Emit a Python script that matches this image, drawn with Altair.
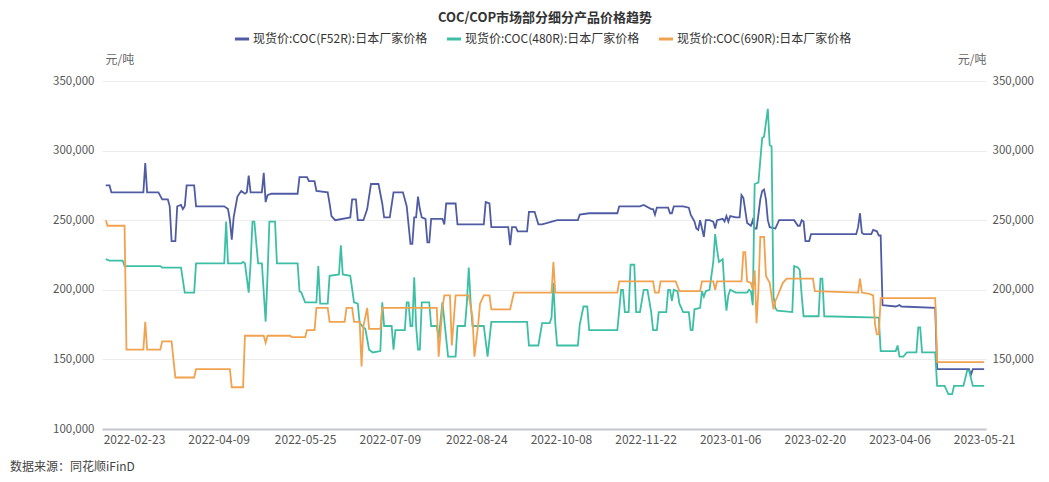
import altair as alt
import pandas as pd

FONT = "Noto Sans CJK SC"
TITLE = "COC/COP市场部分细分产品价格趋势"
SOURCE = "数据来源：同花顺iFinD"
UNIT = "元/吨"
START = "2022-02-08"

SERIES = ["现货价:COC(F52R):日本厂家价格", "现货价:COC(480R):日本厂家价格", "现货价:COC(690R):日本厂家价格"]
COLORS = ["#4f5ca4", "#3dbfa6", "#f2a24e"]

X_TICKS = ["2022-02-23", "2022-04-09", "2022-05-25", "2022-07-09", "2022-08-24", "2022-10-08",
           "2022-11-22", "2023-01-06", "2023-02-20", "2023-04-06", "2023-05-21"]
X_DOMAIN = ["2022-02-06", "2023-05-22"]
Y_TICKS = [100000, 150000, 200000, 250000, 300000, 350000]
Y_TICKS_RIGHT = [150000, 200000, 250000, 300000, 350000]

# days after START, values in thousand yuan/ton
F52R_DAYS = [0, 2, 3, 20, 21, 22, 28, 30, 33, 34, 35, 37, 38, 40, 41, 42, 43, 47, 48, 63, 65, 66, 67, 68, 70, 72, 74, 75, 76, 77,
             83, 84, 85, 86, 88, 102, 103, 107, 108, 111, 112, 118, 119, 120, 122, 130, 131, 133, 134, 137, 139, 141, 145, 147,
             148, 151, 153, 158, 160, 162, 163, 164, 165, 166, 167, 168, 170, 171, 172, 173, 179, 180, 181, 186, 187, 201, 202,
             204, 205, 214, 215, 216, 218, 219, 224, 225, 228, 230, 232, 240, 251, 252, 257, 272, 273, 284, 286, 290, 291, 292,
             293, 299, 300, 301, 302, 307, 310, 311, 313, 314, 315, 316, 317, 318, 319, 321, 323, 324, 325, 328, 329, 330, 331,
             332, 335, 337, 338, 339, 341, 343, 344, 345, 346, 347, 348, 349, 350, 351, 352, 353, 356, 358, 366, 368, 369, 370,
             371, 372, 374, 375, 399, 400, 401, 402, 403, 407, 408, 410, 411, 412, 413, 420, 422, 423, 441, 442, 459, 460, 461, 467]
F52R_VALS = [275, 275, 270, 270, 291, 270, 270, 265, 265, 260, 235, 235, 260, 261, 258, 260, 275, 275, 260, 260, 258, 250, 236,
             252, 267, 271, 269, 270, 282, 270, 270, 284, 263, 268, 269, 269, 281, 281, 278, 278, 271, 270, 262, 253, 250, 252,
             265, 265, 250, 250, 258, 276, 276, 262, 252, 252, 270, 270, 260, 233, 233, 252, 252, 267, 258, 252, 251, 234, 234,
             251, 251, 247, 262, 262, 247, 247, 263, 262, 245, 245, 232, 245, 245, 242, 242, 256, 256, 247, 247, 250, 250, 254,
             255, 255, 260, 260, 261, 258, 258, 254, 259, 259, 255, 255, 260, 260, 259, 254, 249, 244, 243, 250, 244, 238, 250,
             250, 249, 244, 250, 251, 249, 253, 249, 253, 252, 252, 268, 266, 248, 246, 250, 244, 244, 254, 265, 271, 272, 265,
             250, 245, 244, 250, 250, 246, 246, 250, 249, 235, 235, 240, 240, 245, 255, 241, 240, 240, 243, 242, 239, 239, 189,
             188, 189, 188, 187, 143, 143, 139, 143, 143]

C480R_DAYS = [0, 2, 9, 10, 29, 30, 40, 42, 47, 48, 63, 64, 65, 72, 73, 74, 76, 77, 78, 79, 81, 83, 85, 86, 87, 90, 91, 102, 103,
              104, 106, 112, 113, 114, 118, 119, 124, 125, 126, 130, 132, 134, 135, 137, 138, 140, 142, 146, 147, 148, 152, 153,
              154, 159, 160, 161, 162, 163, 164, 165, 166, 167, 168, 172, 173, 176, 177, 179, 182, 186, 187, 191, 192, 193, 194,
              195, 201, 203, 205, 224, 225, 230, 232, 236, 237, 238, 239, 240, 251, 252, 254, 256, 257, 272, 274, 275, 276, 278,
              279, 281, 282, 284, 286, 288, 290, 291, 293, 294, 298, 299, 300, 301, 302, 304, 305, 307, 310, 311, 312, 313, 316,
              317, 318, 319, 321, 323, 324, 325, 326, 328, 329, 330, 331, 332, 335, 341, 342, 343, 344, 345, 347, 349, 350, 352,
              353, 354, 355, 356, 357, 365, 366, 368, 369, 370, 371, 379, 380, 381, 382, 411, 412, 420, 421, 422, 424, 426, 431,
              432, 433, 434, 441, 442, 446, 448, 450, 451, 456, 458, 459, 461, 467]
C480R_VALS = [222, 221, 221, 217, 217, 216, 216, 198, 198, 219, 219, 249, 219, 219, 220, 219, 198, 219, 249, 249, 219, 219, 177,
              210, 249, 249, 219, 219, 199, 198, 191, 191, 217, 190, 190, 210, 211, 232, 211, 210, 191, 190, 176, 173, 172, 157,
              155, 156, 191, 174, 174, 157, 171, 171, 191, 191, 174, 174, 209, 174, 157, 157, 191, 191, 174, 174, 165, 191, 152,
              152, 174, 174, 191, 216, 191, 174, 174, 152, 177, 177, 160, 160, 176, 176, 180, 205, 176, 160, 160, 175, 188, 188,
              171, 171, 200, 200, 184, 184, 218, 218, 184, 184, 200, 200, 184, 171, 171, 184, 184, 200, 200, 192, 200, 199, 190,
              184, 184, 171, 171, 186, 187, 199, 195, 199, 200, 220, 240, 229, 220, 222, 200, 185, 196, 200, 198, 198, 200, 199,
              189, 276, 277, 309, 310, 330, 304, 303, 195, 187, 185, 184, 217, 216, 214, 196, 181, 181, 208, 208, 181, 180, 156,
              156, 160, 152, 152, 155, 155, 173, 173, 155, 155, 131, 131, 125, 125, 131, 131, 142, 142, 131, 131]

C690R_DAYS = [0, 1, 10, 11, 20, 21, 22, 29, 30, 35, 37, 47, 48, 66, 67, 73, 74, 84, 85, 86, 98, 99, 106, 107, 111, 112, 118,
              119, 127, 128, 131, 132, 135, 136, 137, 139, 140, 146, 147, 176, 177, 179, 180, 183, 184, 186, 193, 195, 196, 198,
              199, 201, 204, 205, 215, 217, 237, 238, 239, 272, 273, 291, 292, 294, 295, 303, 305, 316, 317, 323, 324, 325, 338,
              339, 340, 341, 343, 344, 345, 346, 347, 348, 350, 351, 353, 355, 356, 357, 360, 362, 376, 377, 400, 401, 402, 406,
              408, 409, 410, 411, 412, 441, 442, 467]
C690R_VALS = [250, 246, 246, 157, 157, 177, 157, 157, 163, 163, 137, 137, 143, 143, 130, 130, 167, 167, 162, 167, 167, 166,
              166, 171, 171, 187, 187, 177, 177, 187, 187, 177, 177, 145, 174, 187, 172, 172, 187, 187, 152, 187, 196, 196, 160,
              196, 196, 180, 152, 175, 190, 196, 196, 186, 186, 198, 198, 220, 198, 198, 206, 206, 198, 198, 206, 206, 199, 199,
              206, 206, 200, 206, 206, 227, 227, 206, 205, 200, 214, 176, 200, 238, 238, 210, 205, 186, 192, 195, 205, 208, 208,
              199, 198, 208, 198, 197, 196, 175, 168, 168, 194, 194, 148, 148]


def dt(s):
    y, m, d = (int(p) for p in s.split("-"))
    return alt.DateTime(year=y, month=m, date=d)


def frame(name, days, vals):
    return pd.DataFrame({
        "date": pd.Timestamp(START) + pd.to_timedelta(days, unit="D"),
        "value": [v * 1000 for v in vals],
        "series": name,
    })


frames = [frame(SERIES[0], F52R_DAYS, F52R_VALS),
          frame(SERIES[1], C480R_DAYS, C480R_VALS),
          frame(SERIES[2], C690R_DAYS, C690R_VALS)]
all_df = pd.concat(frames, ignore_index=True)

x_enc = alt.X(
    "date:T",
    scale=alt.Scale(domain=[dt(X_DOMAIN[0]), dt(X_DOMAIN[1])]),
    axis=alt.Axis(values=[dt(s) for s in X_TICKS], format="%Y-%m-%d", labelAngle=0, ticks=False,
                  domain=True, domainColor="#c4c6cf", domainWidth=2, grid=False, labelPadding=5,
                  labelFontSize=12, labelColor="#555555", labelFont=FONT, labelOverlap=False,
                  labelFlush=False, title=None),
)
y_scale = alt.Scale(domain=[100000, 350000], nice=False, zero=False)

axis_common = dict(format=",.0f", formatType="number", domain=False, ticks=False, labelFontSize=11.5,
                   labelColor="#555555", labelFont=FONT, title=UNIT, titleAngle=0, titleY=-22,
                   titleBaseline="middle", titleFontWeight="normal", titleFontSize=12,
                   titleColor="#666666", titleFont=FONT)
left_axis = alt.Axis(orient="left", values=Y_TICKS, grid=True, gridColor="#ececec", gridWidth=1,
                     labelPadding=8, titleX=3, titleAlign="left", **axis_common)
right_axis = alt.Axis(orient="right", values=Y_TICKS_RIGHT, grid=False, labelPadding=6, titleX=0,
                      titleAlign="right", **axis_common)

color_enc = alt.Color(
    "series:N",
    scale=alt.Scale(domain=SERIES, range=COLORS),
    legend=alt.Legend(orient="none", legendX=131, legendY=-51, direction="horizontal", title=None,
                      symbolType="stroke", symbolStrokeWidth=3, symbolSize=200, labelFontSize=12,
                      labelColor="#333333", labelFont=FONT, columnPadding=12, labelLimit=400,
                      padding=0, labelOffset=2),
)

line_layers = [
    alt.Chart(f).mark_line(strokeWidth=1.8).encode(
        x=x_enc, y=alt.Y("value:Q", scale=y_scale, axis=left_axis), color=color_enc)
    for f in frames
]
lines = alt.layer(*line_layers)

right = alt.Chart(all_df).mark_line(opacity=0).encode(
    x=x_enc, y=alt.Y("value:Q", scale=y_scale, axis=right_axis), detail="series:N")

title_text = alt.Chart(pd.DataFrame({"t": [TITLE]})).mark_text(
    font=FONT, fontSize=13, fontWeight="bold", color="#333333", align="center", baseline="middle"
).encode(text="t:N", x=alt.value(443), y=alt.value(-63))

source_text = alt.Chart(pd.DataFrame({"t": [SOURCE]})).mark_text(
    font=FONT, fontSize=12, color="#444444", align="left", baseline="middle"
).encode(text="t:N", x=alt.value(-92), y=alt.value(386))

chart = alt.layer(lines, right, title_text, source_text).resolve_scale(y="independent").properties(
    width=884, height=348,
    autosize=alt.AutoSizeParams(type="none"),
    padding={"left": 94, "top": 73, "right": 54, "bottom": 44},
).configure_view(stroke=None)

chart.save("out.html", embed_options={"renderer": "svg", "actions": False})
